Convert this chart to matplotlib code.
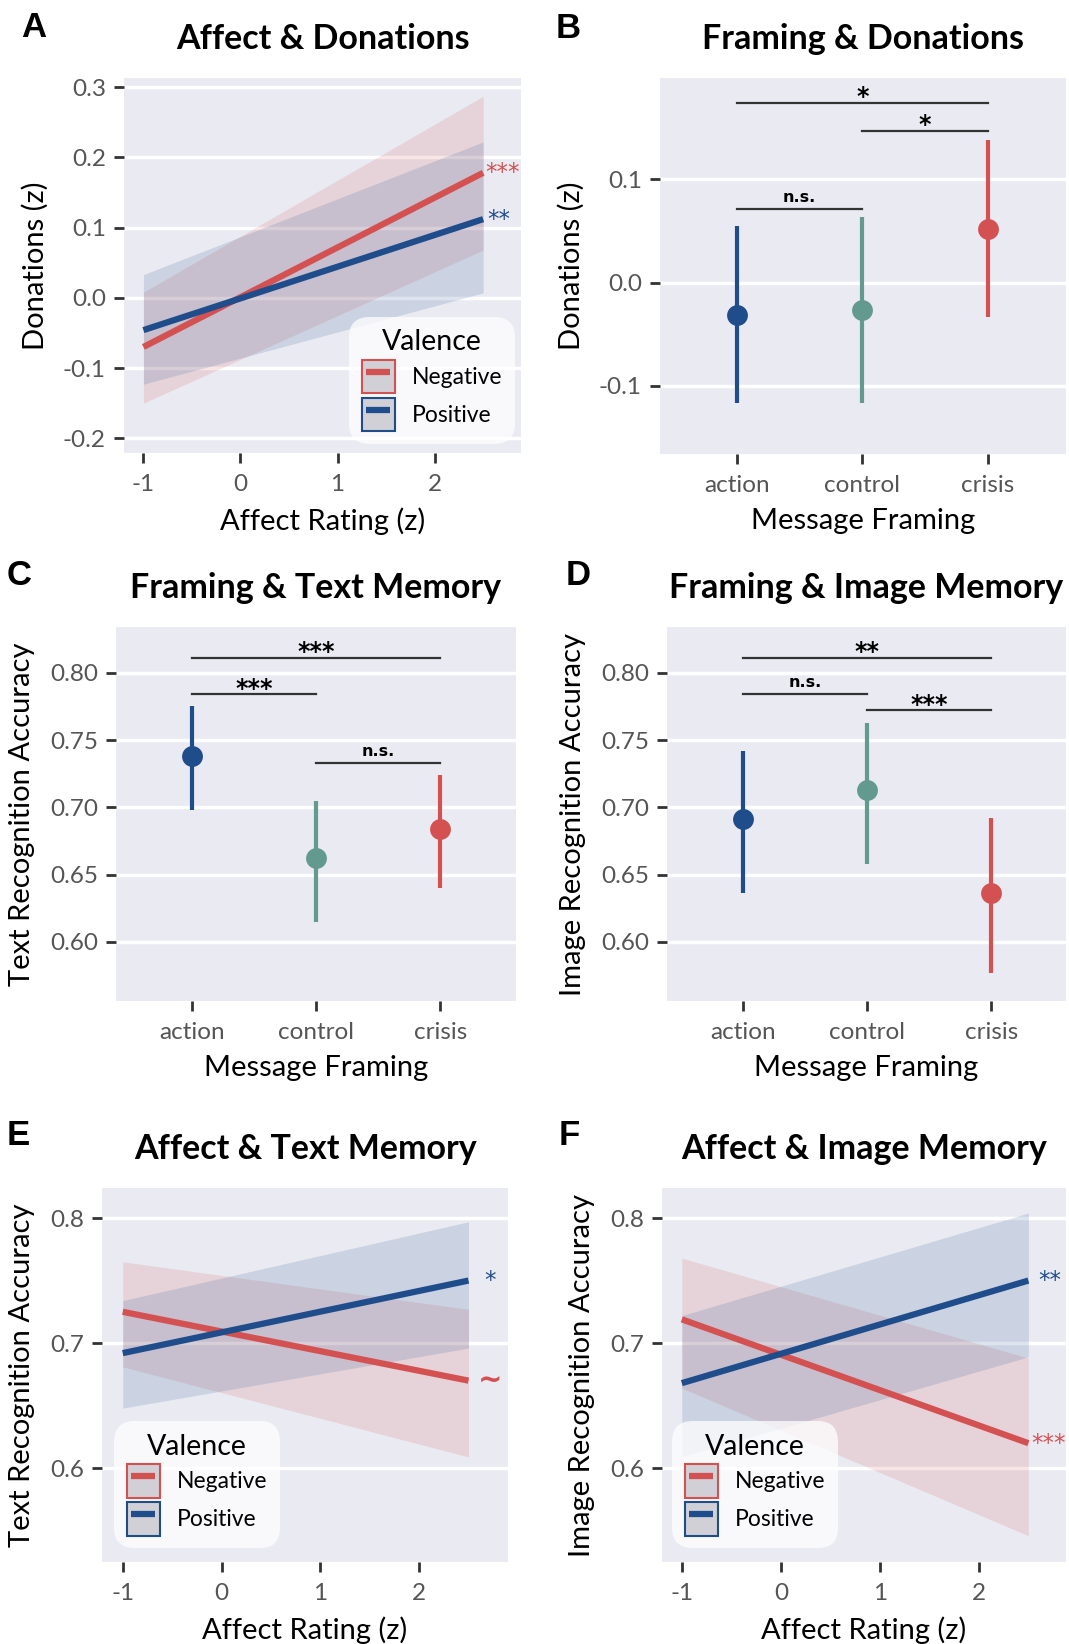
import matplotlib.pyplot as plt
from matplotlib.lines import Line2D
from matplotlib.patches import Patch
from matplotlib.legend_handler import HandlerLine2D
from matplotlib.ticker import FormatStrFormatter

plt.rcParams['font.family'] = ['Lato', 'DejaVu Sans']
plt.rcParams['axes.unicode_minus'] = False

RED = '#d45151'
BLUE = '#1f4d8b'
TEAL = '#639a90'
BG = '#eaeaf2'

# affect models: fitted value and 95% band at both ends of the affect range
affect_x = [-1, 2.5]

don_neg_fit = [-0.070, 0.178]
don_neg_lo = [-0.150, 0.068]
don_neg_hi = [0.008, 0.287]
don_pos_fit = [-0.046, 0.112]
don_pos_lo = [-0.123, 0.007]
don_pos_hi = [0.033, 0.222]

txt_neg_fit = [0.725, 0.670]
txt_neg_lo = [0.681, 0.609]
txt_neg_hi = [0.765, 0.727]
txt_pos_fit = [0.692, 0.750]
txt_pos_lo = [0.648, 0.696]
txt_pos_hi = [0.734, 0.797]

img_neg_fit = [0.719, 0.620]
img_neg_lo = [0.664, 0.546]
img_neg_hi = [0.768, 0.688]
img_pos_fit = [0.668, 0.750]
img_pos_lo = [0.609, 0.689]
img_pos_hi = [0.722, 0.804]

# framing models: estimated mean and 95% CI per condition
framing = ['action', 'control', 'crisis']
framing_colors = [BLUE, TEAL, RED]

don_mean = [-0.031, -0.027, 0.052]
don_lo = [-0.117, -0.117, -0.033]
don_hi = [0.055, 0.063, 0.138]

txt_mean = [0.738, 0.662, 0.684]
txt_lo = [0.698, 0.615, 0.640]
txt_hi = [0.775, 0.705, 0.724]

img_mean = [0.691, 0.713, 0.636]
img_lo = [0.636, 0.658, 0.577]
img_hi = [0.742, 0.763, 0.692]

# pairwise comparisons: (from, to, height, label)
don_pairs = [(0, 2, 0.174, '*'), (1, 2, 0.147, '*'), (0, 1, 0.071, 'n.s.')]
txt_pairs = [(0, 2, 0.811, '***'), (0, 1, 0.784, '***'), (1, 2, 0.733, 'n.s.')]
img_pairs = [(0, 2, 0.811, '**'), (0, 1, 0.784, 'n.s.'), (1, 2, 0.772, '***')]

W, H = 1069, 1644
fig = plt.figure(figsize=(W / 100, H / 100), dpi=100)


def px_axes(left, top, right, bottom):
    return fig.add_axes([left / W, 1 - bottom / H, (right - left) / W, (bottom - top) / H])


def style(ax, title, xlabel, ylabel):
    ax.set_facecolor(BG)
    for s in ax.spines.values():
        s.set_visible(False)
    ax.grid(axis='y', color='white', lw=2.5)
    ax.grid(axis='x', visible=False)
    ax.set_axisbelow(True)
    ax.tick_params(direction='out', length=7, width=2, color='#333333',
                   labelcolor='#555555', labelsize=17.5)
    ax.tick_params(axis='x', pad=8)
    ax.tick_params(axis='y', pad=6)
    ax.set_title(title, fontsize=24.5, fontweight='bold', pad=21)
    ax.set_xlabel(xlabel, fontsize=21, labelpad=9)
    ax.set_ylabel(ylabel, fontsize=21, labelpad=10.5)


def affect_panel(ax, neg, pos, stars, star_dx, legend_loc, legend_anchor):
    for (fit, lo, hi), color in [(neg, RED), (pos, BLUE)]:
        ax.fill_between(affect_x, lo, hi, color=color, alpha=0.15, lw=0)
    for (fit, lo, hi), color, label, dx in [(neg, RED, stars[0], star_dx[0]),
                                            (pos, BLUE, stars[1], star_dx[1])]:
        ax.plot(affect_x, fit, color=color, lw=4.5, solid_capstyle='butt')
        if label == '~':
            ax.text(affect_x[-1] + dx, fit[-1], label, color=color, fontsize=21,
                    fontweight='bold', family='DejaVu Sans', ha='left', va='center')
        else:
            ax.text(affect_x[-1] + dx, fit[-1], label, color=color, fontsize=16.5,
                    family='DejaVu Sans', ha='left', va='center')
    ax.set_xticks([-1, 0, 1, 2])
    handles = [(Patch(facecolor='#d0d0d6', edgecolor=c, lw=1.5),
                Line2D([], [], color=c, lw=4.5, solid_capstyle='butt'))
               for c in (RED, BLUE)]
    leg = ax.legend(handles, ['Negative', 'Positive'], title='Valence', loc=legend_loc,
                    bbox_to_anchor=legend_anchor, borderaxespad=0, fontsize=16.5,
                    title_fontsize=20.5, handlelength=1.45, handleheight=1.86,
                    labelspacing=0.2, handletextpad=0.75, borderpad=0.55,
                    handler_map={Line2D: HandlerLine2D(numpoints=2, marker_pad=0.2)},
                    fancybox=True, framealpha=0.75, facecolor='white', edgecolor='none')
    leg.get_frame().set_boxstyle('round,pad=0,rounding_size=0.9')


def framing_panel(ax, mean, lo, hi, pairs):
    x = range(len(framing))
    for i in x:
        ax.plot([i, i], [lo[i], hi[i]], color=framing_colors[i], lw=3, solid_capstyle='butt')
        ax.plot(i, mean[i], 'o', color=framing_colors[i], ms=15, mec='none')
    for a, b, y, label in pairs:
        ax.plot([a, b], [y, y], color='#333333', lw=1.6)
        if label == 'n.s.':
            ax.annotate(label, ((a + b) / 2, y), xytext=(0, 5), textcoords='offset points',
                        ha='center', va='baseline', fontsize=11.5, fontweight='bold',
                        family='DejaVu Sans')
        else:
            ax.annotate(label, ((a + b) / 2, y), xytext=(0, -1), textcoords='offset points',
                        ha='center', va='baseline', fontsize=17, fontweight='bold',
                        family='DejaVu Sans')
    ax.set_xticks(list(x))
    ax.set_xticklabels(framing)


# A
axA = px_axes(124, 78, 521, 453)
style(axA, 'Affect & Donations', 'Affect Rating (z)', 'Donations (z)')
affect_panel(axA, (don_neg_fit, don_neg_lo, don_neg_hi), (don_pos_fit, don_pos_lo, don_pos_hi),
             ('***', '**'), (0.02, 0.04), 'lower right', (0.985, 0.025))
axA.set_xlim(-1.2, 2.89)
axA.set_ylim(-0.221, 0.313)
axA.set_yticks([-0.2, -0.1, 0.0, 0.1, 0.2, 0.3])
axA.yaxis.set_major_formatter(FormatStrFormatter('%.1f'))

# B
axB = px_axes(660, 78, 1066, 454)
style(axB, 'Framing & Donations', 'Message Framing', 'Donations (z)')
framing_panel(axB, don_mean, don_lo, don_hi, don_pairs)
axB.set_xlim(-0.61, 2.62)
axB.set_ylim(-0.166, 0.198)
axB.set_yticks([-0.1, 0.0, 0.1])
axB.yaxis.set_major_formatter(FormatStrFormatter('%.1f'))

# C
axC = px_axes(116, 627, 516, 1001)
style(axC, 'Framing & Text Memory', 'Message Framing', 'Text Recognition Accuracy')
framing_panel(axC, txt_mean, txt_lo, txt_hi, txt_pairs)
axC.set_xlim(-0.61, 2.61)
axC.set_ylim(0.556, 0.834)
axC.set_yticks([0.60, 0.65, 0.70, 0.75, 0.80])
axC.yaxis.set_major_formatter(FormatStrFormatter('%.2f'))

# D
axD = px_axes(667, 627, 1066, 1001)
style(axD, 'Framing & Image Memory', 'Message Framing', 'Image Recognition Accuracy')
framing_panel(axD, img_mean, img_lo, img_hi, img_pairs)
axD.set_xlim(-0.61, 2.6)
axD.set_ylim(0.556, 0.834)
axD.set_yticks([0.60, 0.65, 0.70, 0.75, 0.80])
axD.yaxis.set_major_formatter(FormatStrFormatter('%.2f'))

# E
axE = px_axes(102, 1188, 508, 1562)
style(axE, 'Affect & Text Memory', 'Affect Rating (z)', 'Text Recognition Accuracy')
affect_panel(axE, (txt_neg_fit, txt_neg_lo, txt_neg_hi), (txt_pos_fit, txt_pos_lo, txt_pos_hi),
             ('~', '*'), (0.1, 0.16), 'lower left', (0.03, 0.037))
axE.set_xlim(-1.21, 2.9)
axE.set_ylim(0.525, 0.824)
axE.set_yticks([0.6, 0.7, 0.8])
axE.yaxis.set_major_formatter(FormatStrFormatter('%.1f'))

# F
axF = px_axes(662, 1188, 1066, 1562)
style(axF, 'Affect & Image Memory', 'Affect Rating (z)', 'Image Recognition Accuracy')
affect_panel(axF, (img_neg_fit, img_neg_lo, img_neg_hi), (img_pos_fit, img_pos_lo, img_pos_hi),
             ('***', '**'), (0.03, 0.1), 'lower left', (0.025, 0.037))
axF.set_xlim(-1.2, 2.88)
axF.set_ylim(0.525, 0.824)
axF.set_yticks([0.6, 0.7, 0.8])
axF.yaxis.set_major_formatter(FormatStrFormatter('%.1f'))

# panel letters
for letter, x, y in [('A', 21, 37), ('B', 556, 38), ('C', 7, 585),
                     ('D', 566, 585), ('E', 7, 1145), ('F', 559, 1145)]:
    fig.text(x / W, 1 - y / H, letter, fontsize=25, fontweight='bold',
             family='Liberation Sans', ha='left', va='baseline')

fig.savefig('out.png', dpi=100)
